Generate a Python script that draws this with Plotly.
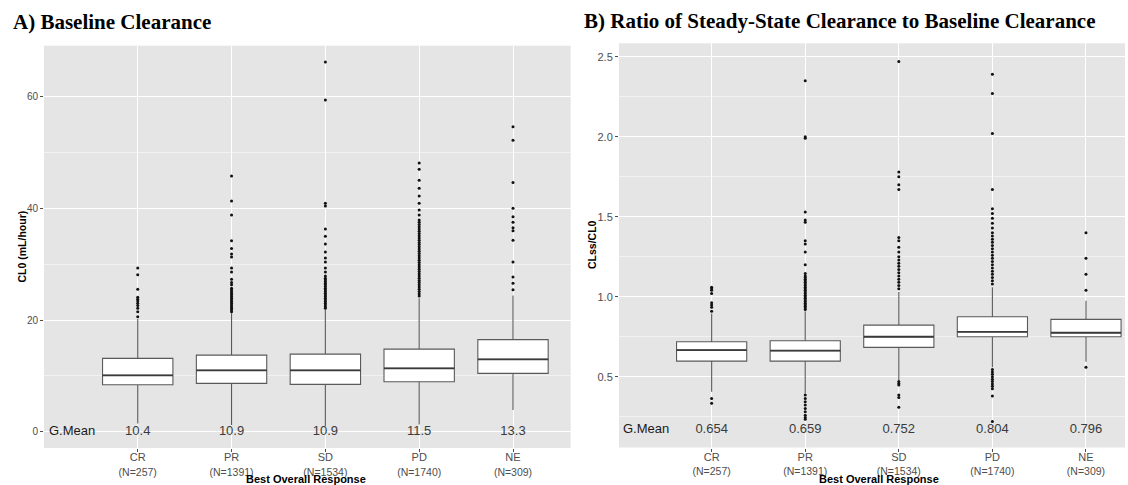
import plotly.graph_objects as go

# ---- data -------------------------------------------------------------
categories = ["CR", "PR", "SD", "PD", "NE"]
n_counts = [257, 1391, 1534, 1740, 309]
x_pos = [0, 1, 2, 3, 4]

# Panel A: baseline clearance CL0 (mL/hour)
a_q1 = [8.42, 8.66, 8.48, 8.95, 10.45]
a_median = [10.1, 11.0, 11.0, 11.35, 12.96]
a_q3 = [13.14, 13.73, 13.9, 14.8, 16.5]
a_lower = [1.5, 1.2, 1.0, 1.3, 3.9]
a_upper = [20.2, 21.2, 21.8, 23.9, 24.4]
a_gmean = ["10.4", "10.9", "10.9", "11.5", "13.3"]

a_out_cr = [29.3, 28.1, 25.5, 24.1, 23.7, 23.4, 23.0, 22.6, 22.1, 21.5, 20.6]
a_out_pr = [45.8, 41.3, 38.8, 34.2, 32.8, 31.8, 31.3, 29.3, 28.6, 27.3, 26.7,
            26.3, 25.7, 25.4, 25.1, 24.8, 24.5, 24.2, 23.9, 23.6, 23.3, 23.0,
            22.7, 22.4, 22.1, 21.8, 21.5]
a_out_sd = [66.2, 59.4, 40.9, 40.4, 36.3, 35.0, 33.6, 32.2, 31.1, 30.4, 29.3,
            28.6, 27.9, 27.5, 27.2, 26.9, 26.6, 26.3, 26.0, 25.7, 25.4, 25.1,
            24.8, 24.5, 24.2, 23.9, 23.6, 23.3, 23.0, 22.7, 22.4, 22.1]
a_out_pd = [48.1, 47.0, 45.0, 43.6, 42.2, 40.9, 39.7, 38.8, 37.9, 37.5, 37.1,
            36.7, 36.3, 35.9, 35.5, 35.1, 34.7, 34.3, 33.9, 33.5, 33.1, 32.7,
            32.3, 31.9, 31.5, 31.1, 30.7, 30.3, 29.9, 29.5, 29.1, 28.7, 28.3,
            27.9, 27.5, 27.1, 26.7, 26.3, 25.9, 25.5, 25.1, 24.7, 24.3]
a_out_ne = [54.6, 52.2, 44.6, 40.0, 38.5, 37.5, 36.5, 36.0, 34.3, 30.4, 27.7,
            26.6, 25.4]

# Panel B: ratio CLss/CL0
b_q1 = [0.598, 0.598, 0.684, 0.750, 0.750]
b_median = [0.667, 0.663, 0.750, 0.781, 0.775]
b_q3 = [0.719, 0.725, 0.823, 0.875, 0.859]
b_lower = [0.406, 0.396, 0.480, 0.559, 0.594]
b_upper = [0.896, 0.910, 1.030, 1.060, 0.975]
b_gmean = ["0.654", "0.659", "0.752", "0.804", "0.796"]

b_out_cr = [1.06, 1.05, 1.04, 1.02, 0.963, 0.948, 0.934, 0.91, 0.365, 0.334]
b_out_pr = [2.35, 2.00, 1.99, 1.53, 1.48, 1.466, 1.35, 1.33, 1.28, 1.20, 1.146,
            1.13, 1.12, 1.11, 1.10, 1.09, 1.08, 1.07, 1.06, 1.05, 1.04, 1.03,
            1.02, 1.01, 1.00, 0.99, 0.98, 0.97, 0.96, 0.95, 0.94, 0.93, 0.92,
            0.386, 0.365, 0.344, 0.323, 0.302, 0.281, 0.26, 0.245, 0.235]
b_out_sd = [2.47, 1.78, 1.75, 1.70, 1.67, 1.37, 1.35, 1.31, 1.28, 1.25, 1.23,
            1.21, 1.19, 1.17, 1.15, 1.13, 1.11, 1.09, 1.07, 1.05,
            0.47, 0.458, 0.448, 0.386, 0.37, 0.31]
b_out_pd = [2.39, 2.27, 2.02, 1.67, 1.55, 1.52, 1.49, 1.46, 1.43, 1.40, 1.38,
            1.36, 1.34, 1.32, 1.30, 1.28, 1.26, 1.24, 1.22, 1.20, 1.18, 1.16,
            1.14, 1.12, 1.10, 1.08,
            0.545, 0.53, 0.515, 0.50, 0.485, 0.47, 0.455, 0.44, 0.425, 0.38, 0.22]
b_out_ne = [1.40, 1.24, 1.14, 1.04, 0.559]

# ---- styling ----------------------------------------------------------
SANS = "Liberation Sans, Arial, sans-serif"
SERIF = "Liberation Serif, Times New Roman, serif"
PANEL_BG = "#E5E5E5"
BOX_LINE = "#5a5a5a"
TICK_GREY = "#4D4D4D"
BOX_W = 0.75

tick_text = [f"{c}<br><span style='font-size:10.5px'>(N={n})</span>"
             for c, n in zip(categories, n_counts)]

fig = go.Figure()


def add_panel(xa, ya, q1, med, q3, lo, hi, outliers, gmean, gm_y):
    fig.add_trace(go.Box(
        x=x_pos, q1=q1, median=med, q3=q3, lowerfence=lo, upperfence=hi,
        width=BOX_W, whiskerwidth=0, fillcolor="white",
        line=dict(color=BOX_LINE, width=1.1), boxpoints=False,
        xaxis=xa, yaxis=ya, showlegend=False, hoverinfo="skip"))
    # thicker median bars
    mx, my = [], []
    for xp, m in zip(x_pos, med):
        mx += [xp - BOX_W / 2, xp + BOX_W / 2, None]
        my += [m, m, None]
    fig.add_trace(go.Scatter(
        x=mx, y=my, mode="lines", line=dict(color="#3a3a3a", width=1.8),
        xaxis=xa, yaxis=ya, showlegend=False, hoverinfo="skip"))
    # outlying observations
    ox, oy = [], []
    for xp, vals in zip(x_pos, outliers):
        ox += [xp] * len(vals)
        oy += vals
    fig.add_trace(go.Scatter(
        x=ox, y=oy, mode="markers",
        marker=dict(color="#111111", size=3, line=dict(width=0)),
        xaxis=xa, yaxis=ya, showlegend=False, hoverinfo="skip"))
    # geometric mean row
    fig.add_trace(go.Scatter(
        x=[-0.70] + x_pos, y=[gm_y] * 6, text=["G.Mean"] + gmean,
        mode="text", textposition="middle center",
        textfont=dict(family=SANS, size=13, color=["#1a1a1a"] + ["#3a3a3a"] * 5),
        xaxis=xa, yaxis=ya, showlegend=False, hoverinfo="skip"))


add_panel("x", "y", a_q1, a_median, a_q3, a_lower, a_upper,
          [a_out_cr, a_out_pr, a_out_sd, a_out_pd, a_out_ne], a_gmean, 0)
add_panel("x2", "y2", b_q1, b_median, b_q3, b_lower, b_upper,
          [b_out_cr, b_out_pr, b_out_sd, b_out_pd, b_out_ne], b_gmean, 0.167)

W, H = 1128, 485


def px_x(p):
    return p / W


def px_y(p):
    return 1 - p / H


common_x = dict(
    tickmode="array", tickvals=x_pos, ticktext=tick_text,
    showgrid=True, gridcolor="white", gridwidth=1, zeroline=False,
    ticks="outside", ticklen=3, tickcolor=TICK_GREY, ticklabelstandoff=-4,
    tickfont=dict(family=SANS, size=11, color=TICK_GREY),
    showline=False, fixedrange=True)
common_y = dict(
    showgrid=True, gridcolor="white", gridwidth=1, zeroline=False,
    ticks="outside", ticklen=3, tickcolor=TICK_GREY,
    showline=False, fixedrange=True)

fig.update_layout(
    width=W, height=H,
    margin=dict(l=0, r=0, t=0, b=0),
    paper_bgcolor="white", plot_bgcolor=PANEL_BG,
    xaxis=dict(common_x, domain=[px_x(44), px_x(570.7)], range=[-0.999, 4.615],
               anchor="y"),
    yaxis=dict(common_y, domain=[px_y(448), px_y(45.7)], range=[-2.9, 69.1],
               anchor="x", tickmode="linear", tick0=0, dtick=20,
               tickfont=dict(family=SANS, size=10, color=TICK_GREY),
               minor=dict(tick0=0, dtick=10, showgrid=True,
                          gridcolor="#F2F2F2", gridwidth=0.6, ticks="")),
    xaxis2=dict(common_x, domain=[px_x(619), px_x(1125)], range=[-0.99, 4.417],
                anchor="y2"),
    yaxis2=dict(common_y, domain=[px_y(447.5), px_y(43.3)], range=[0.058, 2.584],
                anchor="x2", tickmode="linear", tick0=0, dtick=0.5,
                tickformat=".1f",
                tickfont=dict(family=SANS, size=11, color=TICK_GREY),
                minor=dict(tick0=0, dtick=0.25, showgrid=True,
                           gridcolor="#F2F2F2", gridwidth=0.6, ticks="")),
)

annotations = [
    dict(text="<b>A) Baseline Clearance</b>", x=px_x(11), y=px_y(22),
         xanchor="left", yanchor="middle",
         font=dict(family=SERIF, size=21, color="black")),
    dict(text="<b>B) Ratio of Steady-State Clearance to Baseline Clearance</b>",
         x=px_x(582), y=px_y(21), xanchor="left", yanchor="middle",
         font=dict(family=SERIF, size=21, color="black")),
    dict(text="<b>CL0 (mL/hour)</b>", x=px_x(21.5), y=px_y(247), textangle=-90,
         xanchor="center", yanchor="middle",
         font=dict(family=SANS, size=10.5, color="black")),
    dict(text="<b>CLss/CL0</b>", x=px_x(592), y=px_y(245), textangle=-90,
         xanchor="center", yanchor="middle",
         font=dict(family=SANS, size=10.5, color="black")),
    dict(text="<b>Best Overall Response</b>", x=px_x(306), y=px_y(478.5),
         xanchor="center", yanchor="middle",
         font=dict(family=SANS, size=11, color="black")),
    dict(text="<b>Best Overall Response</b>", x=px_x(879), y=px_y(478.5),
         xanchor="center", yanchor="middle",
         font=dict(family=SANS, size=11, color="black")),
]
for a in annotations:
    a.update(xref="paper", yref="paper", showarrow=False)
fig.update_layout(annotations=annotations)

fig.write_html("out.html")
